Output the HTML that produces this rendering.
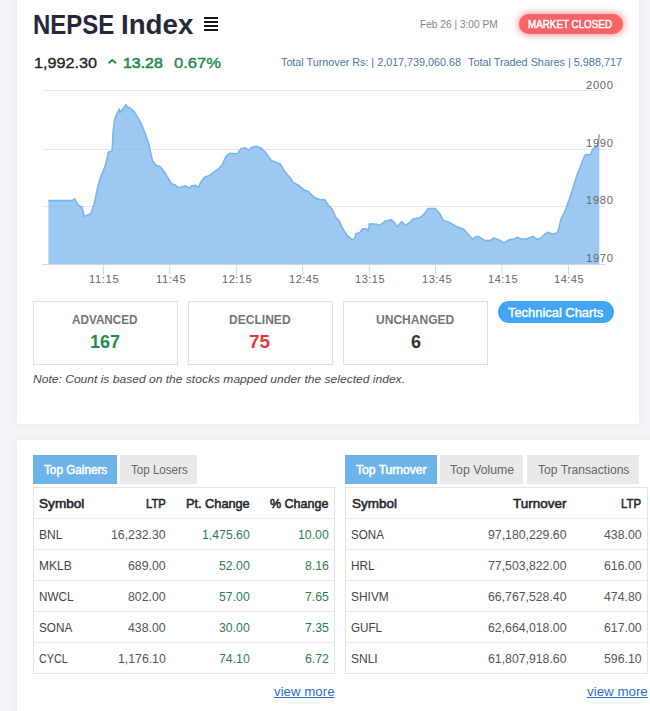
<!DOCTYPE html>
<html><head><meta charset="utf-8"><title>NEPSE Index</title>
<style>
html,body{margin:0;padding:0}
body{width:650px;height:711px;overflow:hidden;background:#f4f5fa;position:relative;font-family:"Liberation Sans", sans-serif;}
.card{position:absolute;background:#fff;box-shadow:0 0 10px rgba(60,60,120,.05)}
.t{position:absolute;white-space:nowrap;line-height:1;font-family:"Liberation Sans", sans-serif;transform-origin:0 0}
.box{position:absolute;border:1px solid #dfdfdf;background:#fff;box-sizing:border-box}
.tab{position:absolute;top:455px;height:29px}
.tb{position:absolute;border:1px solid #e4e4e4;background:#fff}
.hl{position:absolute;height:1px;background:#eaeaea}
</style></head><body>
<div class="card" style="left:17px;top:-10px;width:621.5px;height:434px"></div>
<div class="card" style="left:17px;top:440px;width:700px;height:300px"></div>
<!-- menu icon -->
<svg style="position:absolute;left:204px;top:16px" width="15" height="16" viewBox="0 0 15 16" shape-rendering="crispEdges"><g fill="#14151b"><rect x="0" y="1" width="14" height="2"/><rect x="0" y="5" width="14" height="2"/><rect x="0" y="9" width="14" height="2"/><rect x="0" y="13" width="14" height="2"/></g></svg>
<!-- caret -->
<svg style="position:absolute;left:107px;top:57px" width="11" height="10" viewBox="0 0 11 10"><polyline points="1.5,6.15 5.23,3.1 8.96,6.15" fill="none" stroke="#1f8b4c" stroke-width="1.9"/></svg>
<div style="position:absolute;left:518.5px;top:14px;width:104.5px;height:20px;border-radius:10px;background:#f76468;box-shadow:0 0 7px 1px rgba(248,100,104,.7)"></div>
<svg style="position:absolute;left:0;top:0" width="650" height="300" viewBox="0 0 650 300">
<line x1="42.5" x2="605.5" y1="90.5" y2="90.5" stroke="#e6e6e6" stroke-width="1"/><line x1="42.5" x2="605.5" y1="149.5" y2="149.5" stroke="#e6e6e6" stroke-width="1"/><line x1="42.5" x2="605.5" y1="206.5" y2="206.5" stroke="#e6e6e6" stroke-width="1"/>
<polygon points="48.4,264.5 48.4,200.6 71.6,200.6 74.7,198.9 78.0,205.0 81.8,207.0 84.3,216.4 87.5,215.0 91.1,213.4 92.3,209.2 94.2,203.7 95.4,198.2 97.2,189.5 99.7,179.7 101.5,174.8 104.4,168.0 105.5,164.5 107.1,158.5 108.5,152.0 111.8,151.3 112.4,147.0 113.1,131.9 114.6,119.6 116.5,114.5 118.6,111.0 119.2,109.0 120.5,112.3 126.0,104.7 128.0,108.2 129.0,107.2 134.3,111.8 140.2,121.6 144.6,131.8 148.9,144.4 152.5,161.0 156.3,165.4 160.0,166.5 164.0,171.5 167.7,177.3 171.5,183.7 175.3,185.0 177.8,187.5 181.6,187.0 185.4,185.7 189.2,188.2 191.8,185.7 195.6,185.4 198.6,187.5 200.6,182.4 204.4,177.3 209.5,175.6 213.3,172.3 218.4,169.0 222.2,164.7 226.0,156.3 229.7,153.3 237.3,153.8 241.0,148.7 245.0,147.7 248.7,150.3 251.3,147.5 256.3,146.2 261.4,148.2 265.2,152.0 268.0,156.0 271.4,160.4 280.3,164.0 285.3,172.3 290.4,178.0 293.0,182.4 298.0,185.0 304.3,190.0 308.0,191.3 314.4,197.6 320.8,200.0 324.6,199.6 328.4,205.2 332.2,209.0 336.0,217.8 339.0,220.4 342.3,228.0 347.3,235.6 352.4,239.9 355.0,238.0 355.7,233.8 360.0,232.5 362.5,228.7 366.3,228.7 368.4,231.0 369.4,223.7 376.5,224.2 380.0,225.4 385.2,221.0 391.5,219.9 394.0,222.0 397.3,226.7 401.6,221.6 405.4,225.4 409.2,223.0 413.0,219.0 419.4,217.8 424.4,214.0 428.2,208.5 435.3,208.5 439.6,213.5 443.4,220.4 448.5,222.0 452.3,224.2 457.3,226.7 463.7,229.2 468.7,234.8 472.5,239.4 476.3,236.3 480.0,237.3 485.0,240.6 490.0,240.6 494.0,238.0 499.0,239.9 504.0,242.7 509.0,239.9 513.0,239.4 517.5,237.3 521.8,239.4 526.8,238.9 533.2,236.3 537.0,239.4 540.8,238.0 544.6,234.3 548.4,232.3 552.0,234.3 557.2,233.0 559.0,228.0 561.0,219.0 564.8,211.5 568.6,201.4 572.4,190.0 576.2,177.3 580.3,166.8 582.2,161.4 584.2,156.8 585.8,154.5 590.3,154.7 592.0,151.0 594.2,147.8 597.6,146.0 598.6,140.0 599.3,134.2 599.3,264.5" fill="#7cb5ec" fill-opacity="0.75"/>
<polyline points="48.4,200.6 71.6,200.6 74.7,198.9 78.0,205.0 81.8,207.0 84.3,216.4 87.5,215.0 91.1,213.4 92.3,209.2 94.2,203.7 95.4,198.2 97.2,189.5 99.7,179.7 101.5,174.8 104.4,168.0 105.5,164.5 107.1,158.5 108.5,152.0 111.8,151.3 112.4,147.0 113.1,131.9 114.6,119.6 116.5,114.5 118.6,111.0 119.2,109.0 120.5,112.3 126.0,104.7 128.0,108.2 129.0,107.2 134.3,111.8 140.2,121.6 144.6,131.8 148.9,144.4 152.5,161.0 156.3,165.4 160.0,166.5 164.0,171.5 167.7,177.3 171.5,183.7 175.3,185.0 177.8,187.5 181.6,187.0 185.4,185.7 189.2,188.2 191.8,185.7 195.6,185.4 198.6,187.5 200.6,182.4 204.4,177.3 209.5,175.6 213.3,172.3 218.4,169.0 222.2,164.7 226.0,156.3 229.7,153.3 237.3,153.8 241.0,148.7 245.0,147.7 248.7,150.3 251.3,147.5 256.3,146.2 261.4,148.2 265.2,152.0 268.0,156.0 271.4,160.4 280.3,164.0 285.3,172.3 290.4,178.0 293.0,182.4 298.0,185.0 304.3,190.0 308.0,191.3 314.4,197.6 320.8,200.0 324.6,199.6 328.4,205.2 332.2,209.0 336.0,217.8 339.0,220.4 342.3,228.0 347.3,235.6 352.4,239.9 355.0,238.0 355.7,233.8 360.0,232.5 362.5,228.7 366.3,228.7 368.4,231.0 369.4,223.7 376.5,224.2 380.0,225.4 385.2,221.0 391.5,219.9 394.0,222.0 397.3,226.7 401.6,221.6 405.4,225.4 409.2,223.0 413.0,219.0 419.4,217.8 424.4,214.0 428.2,208.5 435.3,208.5 439.6,213.5 443.4,220.4 448.5,222.0 452.3,224.2 457.3,226.7 463.7,229.2 468.7,234.8 472.5,239.4 476.3,236.3 480.0,237.3 485.0,240.6 490.0,240.6 494.0,238.0 499.0,239.9 504.0,242.7 509.0,239.9 513.0,239.4 517.5,237.3 521.8,239.4 526.8,238.9 533.2,236.3 537.0,239.4 540.8,238.0 544.6,234.3 548.4,232.3 552.0,234.3 557.2,233.0 559.0,228.0 561.0,219.0 564.8,211.5 568.6,201.4 572.4,190.0 576.2,177.3 580.3,166.8 582.2,161.4 584.2,156.8 585.8,154.5 590.3,154.7 592.0,151.0 594.2,147.8 597.6,146.0 598.6,140.0 599.3,134.2" fill="none" stroke="#7cb5ec" stroke-width="1.6" stroke-linejoin="round"/>
<line x1="42.5" x2="605.5" y1="264.5" y2="264.5" stroke="#ccd6eb" stroke-width="1"/>
<line x1="103.4" x2="103.4" y1="264.5" y2="274.5" stroke="#ccd6eb" stroke-width="1"/><line x1="169.8" x2="169.8" y1="264.5" y2="274.5" stroke="#ccd6eb" stroke-width="1"/><line x1="236.3" x2="236.3" y1="264.5" y2="274.5" stroke="#ccd6eb" stroke-width="1"/><line x1="302.7" x2="302.7" y1="264.5" y2="274.5" stroke="#ccd6eb" stroke-width="1"/><line x1="369.2" x2="369.2" y1="264.5" y2="274.5" stroke="#ccd6eb" stroke-width="1"/><line x1="435.6" x2="435.6" y1="264.5" y2="274.5" stroke="#ccd6eb" stroke-width="1"/><line x1="502.0" x2="502.0" y1="264.5" y2="274.5" stroke="#ccd6eb" stroke-width="1"/><line x1="568.5" x2="568.5" y1="264.5" y2="274.5" stroke="#ccd6eb" stroke-width="1"/>
</svg>
<div class="box" style="left:33px;top:301px;width:145px;height:64px"></div>
<div class="box" style="left:188px;top:301px;width:145px;height:64px"></div>
<div class="box" style="left:343px;top:301px;width:145px;height:64px"></div>
<div style="position:absolute;left:498px;top:301px;width:116px;height:22px;border-radius:11px;background:#42a5f5"></div>
<div class="tab" style="left:33px;width:84px;background:#6cb4ea"></div>
<div class="tab" style="left:120.2px;width:77.2px;background:#e9e9e9"></div>
<div class="tab" style="left:345.2px;width:91.4px;background:#6cb4ea"></div>
<div class="tab" style="left:440.2px;width:83.2px;background:#e9e9e9"></div>
<div class="tab" style="left:527.3px;width:111.6px;background:#e9e9e9"></div>
<div class="tb" style="left:33px;top:487px;width:300px;height:185px"></div><div class="hl" style="left:34px;top:518px;width:300px"></div><div class="hl" style="left:34px;top:549px;width:300px"></div><div class="hl" style="left:34px;top:580px;width:300px"></div><div class="hl" style="left:34px;top:611px;width:300px"></div><div class="hl" style="left:34px;top:642px;width:300px"></div>
<div class="tb" style="left:345px;top:487px;width:301px;height:185px"></div><div class="hl" style="left:346px;top:518px;width:301px"></div><div class="hl" style="left:346px;top:549px;width:301px"></div><div class="hl" style="left:346px;top:580px;width:301px"></div><div class="hl" style="left:346px;top:611px;width:301px"></div><div class="hl" style="left:346px;top:642px;width:301px"></div>
<span class="t" style="left:33.10px;top:11.74px;font-size:27px;font-weight:bold;transform:scaleX(0.8881);color:#25283a;">NEPSE</span><span class="t" style="left:121.20px;top:11.74px;font-size:27px;font-weight:bold;transform:scaleX(1.0251);color:#25283a;">Index</span><span class="t" style="left:33.80px;top:55.08px;font-size:15.5px;font-weight:normal;transform:scaleX(1.0457);color:#222;-webkit-text-stroke:.35px #222;">1,992.30</span><span class="t" style="left:122.80px;top:55.33px;font-size:15.2px;font-weight:normal;transform:scaleX(1.0469);color:#1f8b4c;-webkit-text-stroke:.6px #1f8b4c;">13.28</span><span class="t" style="left:174.10px;top:55.33px;font-size:15.2px;font-weight:normal;transform:scaleX(1.0934);color:#1f8b4c;-webkit-text-stroke:.4px #1f8b4c;">0.67%</span><span class="t" style="left:420.00px;top:18.69px;font-size:11px;font-weight:normal;transform:scaleX(0.9229);color:#858585;">Feb 26 | 3:00 PM</span><span class="t" style="left:528.00px;top:19.01px;font-size:10.5px;font-weight:normal;transform:scaleX(0.9367);color:#fff;-webkit-text-stroke:.45px #fff;">MARKET CLOSED</span><span class="t" style="left:281.00px;top:56.57px;font-size:11.5px;font-weight:normal;transform:scaleX(0.9364);color:#4a76ab;">Total Turnover Rs: | 2,017,739,060.68</span><span class="t" style="left:468.00px;top:56.57px;font-size:11.5px;font-weight:normal;transform:scaleX(0.9421);color:#4a76ab;">Total Traded Shares | 5,988,717</span><span class="t" style="left:585.60px;top:79.91px;font-size:10.5px;font-weight:normal;transform:scaleX(1.0623);letter-spacing:0.685px;color:#666;">2000</span><span class="t" style="left:585.60px;top:138.11px;font-size:10.5px;font-weight:normal;transform:scaleX(1.0623);letter-spacing:0.685px;color:#666;">1990</span><span class="t" style="left:585.60px;top:195.31px;font-size:10.5px;font-weight:normal;transform:scaleX(1.0623);letter-spacing:0.685px;color:#666;">1980</span><span class="t" style="left:585.60px;top:252.81px;font-size:10.5px;font-weight:normal;transform:scaleX(1.0623);letter-spacing:0.685px;color:#666;">1970</span><span class="t" style="left:89.40px;top:274.01px;font-size:10.5px;font-weight:normal;transform:scaleX(1.0643);letter-spacing:0.578px;color:#666;">11:15</span><span class="t" style="left:155.84px;top:274.01px;font-size:10.5px;font-weight:normal;transform:scaleX(1.0643);letter-spacing:0.578px;color:#666;">11:45</span><span class="t" style="left:222.28px;top:274.01px;font-size:10.5px;font-weight:normal;transform:scaleX(1.0505);letter-spacing:0.474px;color:#666;">12:15</span><span class="t" style="left:288.72px;top:274.01px;font-size:10.5px;font-weight:normal;transform:scaleX(1.0505);letter-spacing:0.474px;color:#666;">12:45</span><span class="t" style="left:355.16px;top:274.01px;font-size:10.5px;font-weight:normal;transform:scaleX(1.0505);letter-spacing:0.474px;color:#666;">13:15</span><span class="t" style="left:421.60px;top:274.01px;font-size:10.5px;font-weight:normal;transform:scaleX(1.0505);letter-spacing:0.474px;color:#666;">13:45</span><span class="t" style="left:488.04px;top:274.01px;font-size:10.5px;font-weight:normal;transform:scaleX(1.0505);letter-spacing:0.474px;color:#666;">14:15</span><span class="t" style="left:554.48px;top:274.01px;font-size:10.5px;font-weight:normal;transform:scaleX(1.0505);letter-spacing:0.474px;color:#666;">14:45</span><span class="t" style="left:72.20px;top:313.99px;font-size:12.3px;font-weight:bold;transform:scaleX(0.9537);color:#757575;">ADVANCED</span><span class="t" style="left:90.00px;top:332.96px;font-size:18px;font-weight:bold;transform:scaleX(0.9984);color:#1f8b4c;">167</span><span class="t" style="left:229.20px;top:313.99px;font-size:12.3px;font-weight:bold;transform:scaleX(0.9800);color:#757575;">DECLINED</span><span class="t" style="left:249.10px;top:332.96px;font-size:18px;font-weight:bold;transform:scaleX(1.0484);color:#e53935;">75</span><span class="t" style="left:375.95px;top:313.99px;font-size:12.3px;font-weight:bold;transform:scaleX(0.9795);color:#757575;">UNCHANGED</span><span class="t" style="left:410.50px;top:332.96px;font-size:18px;font-weight:bold;transform:scaleX(0.9984);color:#333;">6</span><span class="t" style="left:33.00px;top:373.69px;font-size:11px;font-style:italic;font-weight:normal;transform:scaleX(1.0961);color:#4a4a4a;">Note: Count is based on the stocks mapped under the selected index.</span><span class="t" style="left:508.20px;top:306.00px;font-size:13px;font-weight:normal;transform:scaleX(0.9916);color:#fff;-webkit-text-stroke:.4px #fff;">Technical Charts</span><span class="t" style="left:43.50px;top:463.84px;font-size:12px;font-weight:normal;transform:scaleX(0.9768);color:#fff;-webkit-text-stroke:.5px #fff;">Top Gainers</span><span class="t" style="left:130.80px;top:463.84px;font-size:12px;font-weight:normal;transform:scaleX(0.9659);color:#666;">Top Losers</span><span class="t" style="left:355.80px;top:463.84px;font-size:12px;font-weight:normal;transform:scaleX(1.0079);color:#fff;-webkit-text-stroke:.5px #fff;">Top Turnover</span><span class="t" style="left:450.00px;top:463.84px;font-size:12px;font-weight:normal;transform:scaleX(1.0204);color:#666;">Top Volume</span><span class="t" style="left:537.80px;top:463.84px;font-size:12px;font-weight:normal;transform:scaleX(1.0075);color:#666;">Top Transactions</span><span class="t" style="left:38.80px;top:497.40px;font-size:13px;font-weight:normal;transform:scaleX(1.0471);color:#26262e;-webkit-text-stroke:.55px #26262e;">Symbol</span><span class="t" style="left:145.50px;top:497.40px;font-size:13px;font-weight:normal;transform:scaleX(0.8694);color:#26262e;-webkit-text-stroke:.55px #26262e;">LTP</span><span class="t" style="left:186.30px;top:497.40px;font-size:13px;font-weight:normal;transform:scaleX(0.9793);color:#26262e;-webkit-text-stroke:.55px #26262e;">Pt. Change</span><span class="t" style="left:270.00px;top:497.40px;font-size:13px;font-weight:normal;transform:scaleX(0.9618);color:#26262e;-webkit-text-stroke:.55px #26262e;">% Change</span><span class="t" style="left:38.60px;top:528.45px;font-size:13px;font-weight:normal;transform:scaleX(0.9329);color:#444;">BNL</span><span class="t" style="left:110.80px;top:528.45px;font-size:13px;font-weight:normal;transform:scaleX(0.9440);color:#555;">16,232.30</span><span class="t" style="left:202.22px;top:528.45px;font-size:13px;font-weight:normal;transform:scaleX(0.9440);color:#2e7d4f;">1,475.60</span><span class="t" style="left:297.68px;top:528.45px;font-size:13px;font-weight:normal;transform:scaleX(0.9440);color:#2e7d4f;">10.00</span><span class="t" style="left:38.60px;top:559.45px;font-size:13px;font-weight:normal;transform:scaleX(0.9236);color:#444;">MKLB</span><span class="t" style="left:127.86px;top:559.45px;font-size:13px;font-weight:normal;transform:scaleX(0.9440);color:#555;">689.00</span><span class="t" style="left:219.28px;top:559.45px;font-size:13px;font-weight:normal;transform:scaleX(0.9440);color:#2e7d4f;">52.00</span><span class="t" style="left:304.50px;top:559.45px;font-size:13px;font-weight:normal;transform:scaleX(0.9440);color:#2e7d4f;">8.16</span><span class="t" style="left:38.60px;top:590.45px;font-size:13px;font-weight:normal;transform:scaleX(0.8986);color:#444;">NWCL</span><span class="t" style="left:127.86px;top:590.45px;font-size:13px;font-weight:normal;transform:scaleX(0.9440);color:#555;">802.00</span><span class="t" style="left:219.28px;top:590.45px;font-size:13px;font-weight:normal;transform:scaleX(0.9440);color:#2e7d4f;">57.00</span><span class="t" style="left:304.50px;top:590.45px;font-size:13px;font-weight:normal;transform:scaleX(0.9440);color:#2e7d4f;">7.65</span><span class="t" style="left:38.60px;top:621.45px;font-size:13px;font-weight:normal;transform:scaleX(0.9011);color:#444;">SONA</span><span class="t" style="left:127.86px;top:621.45px;font-size:13px;font-weight:normal;transform:scaleX(0.9440);color:#555;">438.00</span><span class="t" style="left:219.28px;top:621.45px;font-size:13px;font-weight:normal;transform:scaleX(0.9440);color:#2e7d4f;">30.00</span><span class="t" style="left:304.50px;top:621.45px;font-size:13px;font-weight:normal;transform:scaleX(0.9440);color:#2e7d4f;">7.35</span><span class="t" style="left:38.60px;top:652.45px;font-size:13px;font-weight:normal;transform:scaleX(0.8274);color:#444;">CYCL</span><span class="t" style="left:117.62px;top:652.45px;font-size:13px;font-weight:normal;transform:scaleX(0.9440);color:#555;">1,176.10</span><span class="t" style="left:219.28px;top:652.45px;font-size:13px;font-weight:normal;transform:scaleX(0.9440);color:#2e7d4f;">74.10</span><span class="t" style="left:304.50px;top:652.45px;font-size:13px;font-weight:normal;transform:scaleX(0.9440);color:#2e7d4f;">6.72</span><span class="t" style="left:351.60px;top:497.40px;font-size:13px;font-weight:normal;transform:scaleX(1.0355);color:#26262e;-webkit-text-stroke:.55px #26262e;">Symbol</span><span class="t" style="left:513.00px;top:497.40px;font-size:13px;font-weight:normal;transform:scaleX(1.0360);color:#26262e;-webkit-text-stroke:.55px #26262e;">Turnover</span><span class="t" style="left:621.00px;top:497.40px;font-size:13px;font-weight:normal;transform:scaleX(0.8781);color:#26262e;-webkit-text-stroke:.55px #26262e;">LTP</span><span class="t" style="left:351.00px;top:528.45px;font-size:13px;font-weight:normal;transform:scaleX(0.8957);color:#444;">SONA</span><span class="t" style="left:487.92px;top:528.45px;font-size:13px;font-weight:normal;transform:scaleX(0.9440);color:#555;">97,180,229.60</span><span class="t" style="left:603.56px;top:528.45px;font-size:13px;font-weight:normal;transform:scaleX(0.9440);color:#555;">438.00</span><span class="t" style="left:351.00px;top:559.45px;font-size:13px;font-weight:normal;transform:scaleX(0.9110);color:#444;">HRL</span><span class="t" style="left:487.92px;top:559.45px;font-size:13px;font-weight:normal;transform:scaleX(0.9440);color:#555;">77,503,822.00</span><span class="t" style="left:603.56px;top:559.45px;font-size:13px;font-weight:normal;transform:scaleX(0.9440);color:#555;">616.00</span><span class="t" style="left:351.00px;top:590.45px;font-size:13px;font-weight:normal;transform:scaleX(0.9181);color:#444;">SHIVM</span><span class="t" style="left:487.92px;top:590.45px;font-size:13px;font-weight:normal;transform:scaleX(0.9440);color:#555;">66,767,528.40</span><span class="t" style="left:603.56px;top:590.45px;font-size:13px;font-weight:normal;transform:scaleX(0.9440);color:#555;">474.80</span><span class="t" style="left:351.00px;top:621.45px;font-size:13px;font-weight:normal;transform:scaleX(0.8970);color:#444;">GUFL</span><span class="t" style="left:487.92px;top:621.45px;font-size:13px;font-weight:normal;transform:scaleX(0.9440);color:#555;">62,664,018.00</span><span class="t" style="left:603.56px;top:621.45px;font-size:13px;font-weight:normal;transform:scaleX(0.9440);color:#555;">617.00</span><span class="t" style="left:351.00px;top:652.45px;font-size:13px;font-weight:normal;transform:scaleX(0.9237);color:#444;">SNLI</span><span class="t" style="left:487.92px;top:652.45px;font-size:13px;font-weight:normal;transform:scaleX(0.9440);color:#555;">61,807,918.60</span><span class="t" style="left:603.56px;top:652.45px;font-size:13px;font-weight:normal;transform:scaleX(0.9440);color:#555;">596.10</span><span class="t" style="left:274.40px;top:685.00px;font-size:13px;font-weight:normal;transform:scaleX(1.0228);color:#2a6fc9;text-decoration:underline;">view more</span><span class="t" style="left:587.00px;top:685.00px;font-size:13px;font-weight:normal;transform:scaleX(1.0262);color:#2a6fc9;text-decoration:underline;">view more</span>
</body></html>
